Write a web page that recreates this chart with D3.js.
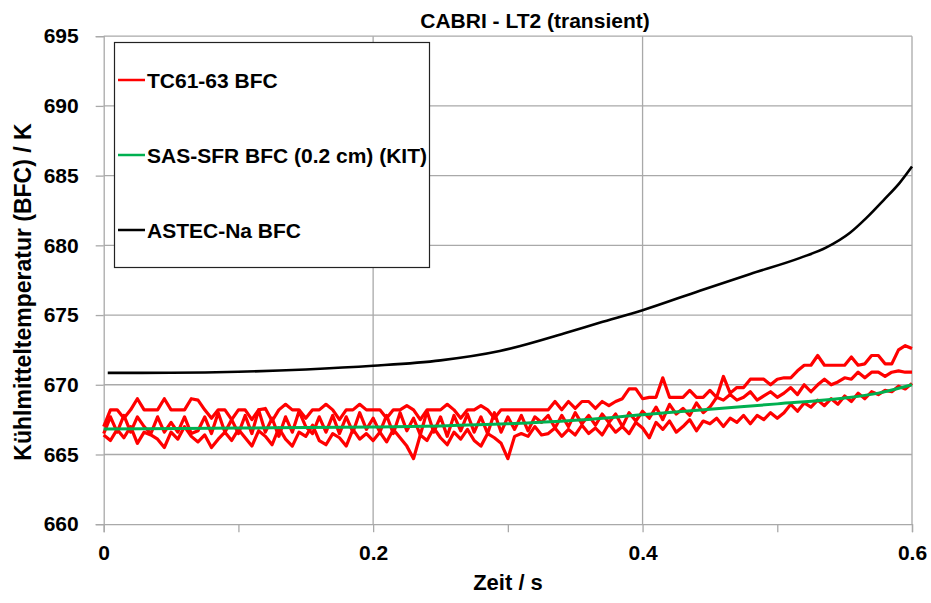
<!DOCTYPE html>
<html><head><meta charset="utf-8">
<script src="https://cdn.jsdelivr.net/npm/d3@7"></script>
<style>
body{margin:0;background:#fff;}
text{font-family:"Liberation Sans",Arial,sans-serif;font-weight:bold;fill:#000;}
</style></head>
<body><svg id="chart" width="931" height="603"></svg>
<script>
// ---- data ----
const chartTitle = "CABRI - LT2 (transient)";
const xLabel = "Zeit / s";
const yLabel = "Kühlmitteltemperatur (BFC) / K";
const xTicks = [0, 0.2, 0.4, 0.6];
const xMinorTicks = [0, 0.1, 0.2, 0.3, 0.4, 0.5, 0.6];
const yTicks = [660, 665, 670, 675, 680, 685, 690, 695];
const seriesNames = ["TC61-63 BFC", "SAS-SFR BFC (0.2 cm) (KIT)", "ASTEC-Na BFC"];
const seriesColors = ["#ff0000", "#00b050", "#000000"];

// measured thermocouples, sampled every 0.005 s from 0 to 0.6 s
const tcStepS = 0.005;
const tc61 = [667.0,668.2,668.2,667.6,668.2,669.0,668.2,668.2,668.2,669.0,668.2,668.2,668.2,669.0,668.9,668.2,667.6,668.2,668.2,667.5,668.2,
  668.2,667.5,668.2,668.3,667.4,668.2,668.6,668.2,668.2,667.6,668.2,668.2,668.6,668.2,667.5,668.2,668.2,668.6,668.2,668.2,
  668.2,667.6,668.2,668.2,668.5,668.2,667.5,668.2,668.2,668.2,668.6,668.2,667.6,668.2,668.2,668.5,668.2,667.6,668.2,668.2,
  668.2,668.2,668.2,668.2,668.2,668.2,668.8,668.2,668.8,668.3,668.8,668.8,668.3,668.8,668.5,668.8,669.0,669.7,669.7,669.0,
  669.1,669.1,670.5,669.1,669.1,669.1,669.6,669.1,669.1,669.6,669.1,670.6,669.4,669.8,669.8,670.4,670.4,670.4,670.0,670.4,
  670.5,670.5,671.0,671.4,671.4,672.1,671.4,671.4,671.4,671.4,672.0,671.4,671.5,672.1,672.1,671.5,671.5,672.5,672.8,672.6];
const tc62 = [666.5,667.7,666.6,667.8,666.6,667.7,667.0,666.5,667.7,666.6,667.3,666.6,667.7,666.5,666.7,667.7,666.5,668.0,666.6,667.5,666.5,
  667.8,666.5,668.2,666.6,667.6,666.3,667.7,666.6,668.1,667.0,666.5,667.7,666.6,667.8,666.5,667.7,666.6,668.0,666.8,667.6,
  666.6,667.8,666.5,668.0,666.7,667.6,666.4,668.1,666.6,667.7,666.3,667.8,666.7,667.9,666.6,667.7,666.5,668.0,666.6,667.7,
  666.8,667.8,666.7,667.7,667.3,667.8,666.9,667.8,667.0,668.0,667.2,667.8,667.1,667.9,667.3,667.9,667.0,668.0,667.4,668.1,
  667.6,668.4,667.5,668.6,667.9,668.3,667.8,668.7,668.0,668.4,669.1,668.9,669.3,668.9,669.1,669.5,668.9,669.2,669.5,669.1,
  669.4,669.8,669.3,670.0,669.5,670.0,670.4,670.0,670.2,670.5,670.4,670.9,670.5,670.9,670.9,670.6,670.9,671.0,670.9,670.9];
const tc63 = [666.4,666.0,666.8,666.2,667.0,665.8,666.6,666.4,666.1,665.5,666.6,666.1,667.0,666.3,665.9,666.4,665.5,666.1,666.6,666.0,666.8,
  666.2,665.6,666.7,666.3,665.7,666.9,666.1,665.6,666.6,666.3,667.1,666.0,665.7,666.5,666.2,665.6,666.8,666.1,666.5,666.0,
  666.6,665.9,666.8,666.2,665.6,664.7,666.4,666.0,666.9,666.2,665.7,666.6,666.1,666.8,666.0,665.6,666.5,666.2,665.8,664.7,
  666.3,666.5,666.3,667.0,666.4,666.5,666.9,666.3,666.8,666.4,667.1,666.5,666.9,666.4,667.2,666.6,667.0,666.5,667.3,666.9,
  666.2,667.3,666.8,667.4,666.6,667.0,667.5,666.7,667.4,667.2,667.6,667.0,667.6,667.3,667.8,667.2,667.8,667.5,668.0,667.6,
  668.0,668.6,668.1,668.7,668.4,668.9,668.5,669.0,668.6,669.2,668.8,669.4,669.0,669.5,669.3,669.6,669.5,669.9,669.7,670.1];

// SAS-SFR simulation
const sasTime = [0, 0.1, 0.2, 0.25, 0.3, 0.35, 0.4, 0.45, 0.5, 0.55, 0.575, 0.6];
const sasTemp = [666.82, 666.9, 666.97, 667.05, 667.2, 667.45, 667.85, 668.25, 668.63, 669.05, 669.4, 670.0];

// ASTEC-Na simulation
const astecTime = [0.003, 0.05, 0.1, 0.15, 0.2, 0.25, 0.294, 0.344, 0.368, 0.4, 0.4425, 0.48, 0.517, 0.5365, 0.554, 0.566, 0.579, 0.591, 0.6];
const astecTemp = [670.85, 670.86, 670.93, 671.1, 671.36, 671.75, 672.42, 673.75, 674.45, 675.35, 676.75, 677.95, 679.1, 679.85, 680.9, 681.95, 683.25, 684.5, 685.65];

// ---- drawing ----
const W = 931, H = 603;
const M = {left: 103.7, right: 912, top: 36.2, bottom: 524.2};
const svg = d3.select("#chart");
svg.append("rect").attr("width", W).attr("height", H).attr("fill", "#fff");

const x = d3.scaleLinear().domain([0, 0.6]).range([M.left, M.right]);
const y = d3.scaleLinear().domain([660, 695]).range([M.bottom, M.top]);
const gridColor = "#a9a9a9";

// gridlines
svg.append("g").selectAll("line").data(yTicks.slice(1)).join("line")
  .attr("x1", M.left).attr("x2", M.right).attr("y1", d => y(d)).attr("y2", d => y(d))
  .attr("stroke", gridColor).attr("stroke-width", 1.3);
svg.append("g").selectAll("line").data(xTicks.slice(1)).join("line")
  .attr("y1", M.top).attr("y2", M.bottom).attr("x1", d => x(d)).attr("x2", d => x(d))
  .attr("stroke", gridColor).attr("stroke-width", 1.3);

// axes
const yAxis = d3.axisLeft(y).tickValues(yTicks).tickSize(8).tickFormat(d3.format("d"));
const gy = svg.append("g").attr("transform", `translate(${M.left},0)`).call(yAxis);
gy.select(".domain").attr("stroke", gridColor).attr("stroke-width", 1.3);
gy.selectAll(".tick line").attr("stroke", gridColor).attr("stroke-width", 1.3);
gy.selectAll(".tick text").attr("x", -25).attr("font-size", 21)
  .style("font-family", "'Liberation Sans', Arial, sans-serif").style("font-weight", "bold").attr("fill", "#000");

const xAxisMinor = d3.axisBottom(x).tickValues(xMinorTicks).tickSize(8).tickFormat("");
const gxm = svg.append("g").attr("transform", `translate(0,${M.bottom})`).call(xAxisMinor);
gxm.select(".domain").attr("stroke", gridColor).attr("stroke-width", 1.3);
gxm.selectAll(".tick line").attr("stroke", gridColor).attr("stroke-width", 1.3);

const xAxis = d3.axisBottom(x).tickValues(xTicks).tickSize(0).tickFormat(d => d === 0 ? "0" : d3.format(".1f")(d));
const gx = svg.append("g").attr("transform", `translate(0,${M.bottom})`).call(xAxis);
gx.select(".domain").remove();
gx.selectAll(".tick text").attr("y", 21).attr("font-size", 21)
  .style("font-family", "'Liberation Sans', Arial, sans-serif").style("font-weight", "bold").attr("fill", "#000");

// lines
const tcLine = d3.line().x((d, i) => x(i * tcStepS)).y(d => y(d));
[tc61, tc62, tc63].forEach(s => {
  svg.append("path").datum(s).attr("d", tcLine)
    .attr("fill", "none").attr("stroke", seriesColors[0]).attr("stroke-width", 3.2)
    .attr("stroke-linejoin", "round");
});
const smooth = d3.line().x(d => x(d[0])).y(d => y(d[1])).curve(d3.curveMonotoneX);
svg.append("path").datum(sasTime.map((t, i) => [t, sasTemp[i]])).attr("d", smooth)
  .attr("fill", "none").attr("stroke", seriesColors[1]).attr("stroke-width", 3);
svg.append("path").datum(astecTime.map((t, i) => [t, astecTemp[i]])).attr("d", smooth)
  .attr("fill", "none").attr("stroke", seriesColors[2]).attr("stroke-width", 2.6);

// legend
const lg = svg.append("g");
lg.append("rect").attr("x", 114.5).attr("y", 42.5).attr("width", 315).attr("height", 225)
  .attr("fill", "#fff").attr("stroke", "#222").attr("stroke-width", 1.2);
const legendY = [80, 155, 230];
seriesNames.forEach((n, i) => {
  lg.append("line").attr("x1", 118).attr("x2", 145).attr("y1", legendY[i]).attr("y2", legendY[i])
    .attr("stroke", seriesColors[i]).attr("stroke-width", 2.5);
  lg.append("text").attr("x", 147).attr("y", legendY[i]).attr("dy", "0.36em")
    .attr("font-size", 21).text(n);
});

// titles
svg.append("text").attr("x", 535).attr("y", 28).attr("text-anchor", "middle")
  .attr("font-size", 21).text(chartTitle);
svg.append("text").attr("x", 508).attr("y", 590).attr("text-anchor", "middle")
  .attr("font-size", 22).text(xLabel);
svg.append("text").attr("transform", "translate(31,292) rotate(-90)").attr("text-anchor", "middle")
  .attr("font-size", 23).text(yLabel);
</script></body></html>
